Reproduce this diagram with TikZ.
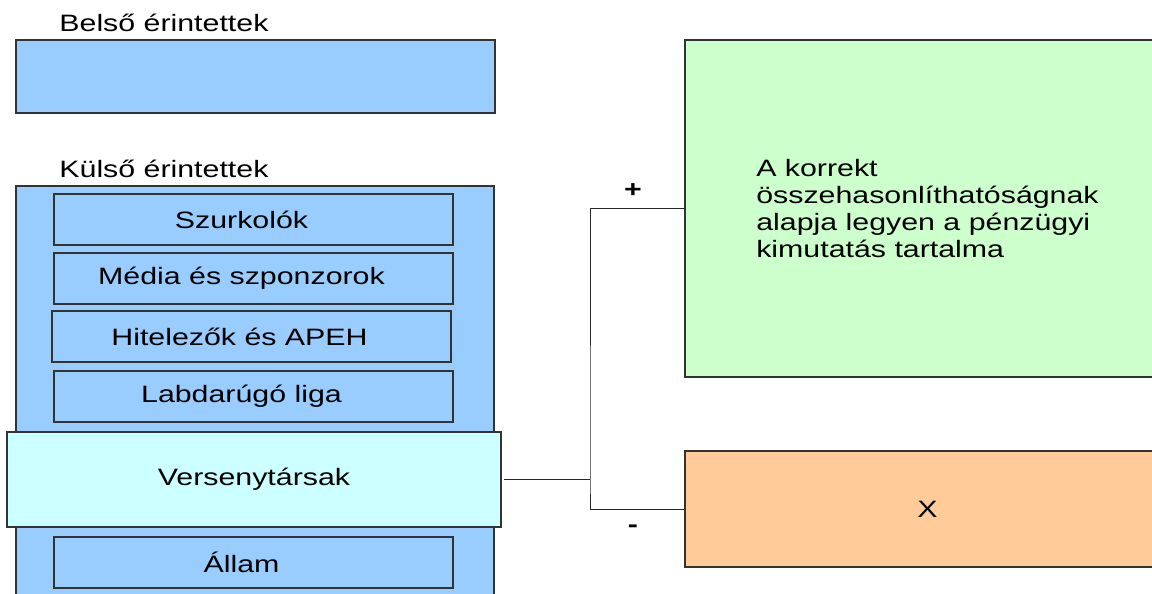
\documentclass[tikz,border=0pt]{standalone}
\usepackage{fontspec}
\setmainfont[FakeStretch=1.28]{Liberation Sans}
\usepackage{tikz}
\usetikzlibrary{positioning}
\definecolor{skyblue}{RGB}{153, 204, 255}
\definecolor{paleaqua}{RGB}{204, 255, 255}
\definecolor{palemint}{RGB}{204, 255, 204}
\definecolor{apricot}{RGB}{255, 204, 153}

\tikzset{
  box/.style={draw=black!80, line width=0.6pt, inner sep=0pt, outer sep=0pt, anchor=north west},
  innerbox/.style={box, fill=skyblue, minimum width=199.5pt, minimum height=25.5pt},
  heading/.style={inner sep=0pt, anchor=base west},
  sign/.style={inner sep=0pt},
  conn/.style={draw=black!85, line width=0.5pt}
}
\newcommand{\balra}[1]{#1\rule{12pt}{0pt}}

\begin{document}
\begin{tikzpicture}[x=0.5pt, y=-0.5pt, font=\fontsize{11.85}{13.65}\selectfont]
            % Frame to fix the page
            \useasboundingbox (0, 0) rectangle (1152, 594);
            \clip (0, 0) rectangle (1152, 594);
            % Belso erintettek
            \node[heading] (belsocim) at (59, 32) {Belső érintettek};
            \node[box, fill=skyblue, minimum width=239.5pt, minimum height=36.5pt] (belso) at (16, 40) {};
            % Kulso erintettek
            \node[heading] (kulsocim) at (59, 177) {Külső érintettek};
            \node[box, fill=skyblue, minimum width=239pt, minimum height=210pt] (kulso) at (16, 186) {};
            \node[innerbox] (szurkolok) at (54, 194) {\balra{Szurkolók}};
            \node[innerbox] (media)     at (54, 253) {\balra{Média és szponzorok}};
            \node[innerbox] (hitelezok) at (52, 311) {\balra{Hitelezők és APEH}};
            \node[innerbox] (liga)      at (54, 371) {\balra{Labdarúgó liga}};
            \node[box, fill=paleaqua, minimum width=247pt, minimum height=47.5pt] (versenytarsak) at (7, 432) {Versenytársak};
            \node[innerbox] (allam)     at (54, 537) {\balra{Állam}};
            % Right-hand boxes
            \node[box, fill=palemint, minimum width=242.5pt, minimum height=168.5pt, align=left] (korrekt) at (685, 40)
                 {A korrekt\\összehasonlíthatóságnak\\alapja legyen a pénzügyi\\kimutatás tartalma};
            \node[box, fill=apricot, minimum width=242.5pt, minimum height=58pt] (xdoboz) at (685, 451) {X};
            % Connectors
            \coordinate (elagazas) at (590, 479);
            \draw[conn] (versenytarsak.east) ++(1.5pt, 0) -- (versenytarsak.east -| elagazas);
            \draw[conn] (korrekt.west) -| (elagazas) |- (xdoboz.west);
            \node[sign] (plusz)  at (633, 191) {\textbf{+}};
            \node[sign] (minusz) at (633, 529) {\textbf{-}};
        \end{tikzpicture}
\end{document}
